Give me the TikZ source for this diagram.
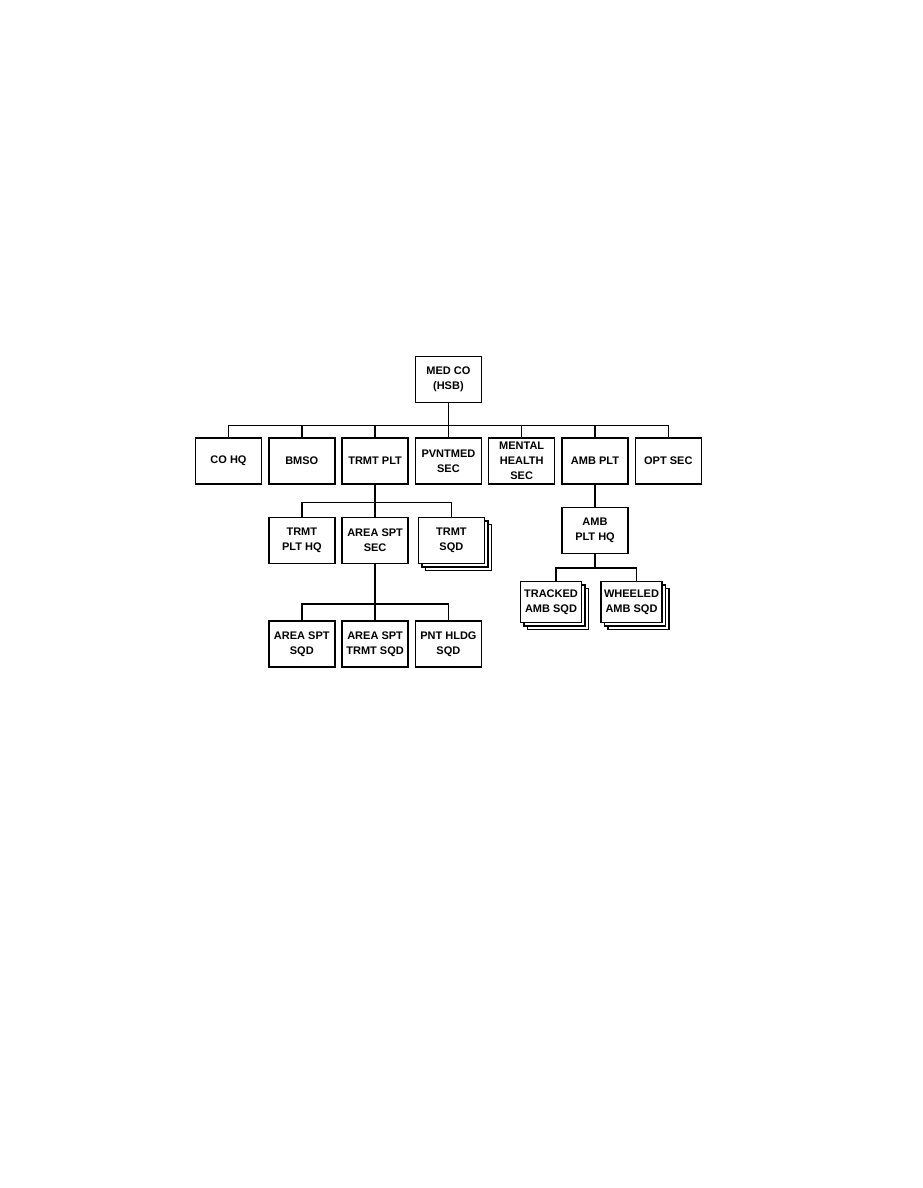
\documentclass[tikz,border=0pt]{standalone}
\usepackage{fontspec}
\setsansfont{Liberation Sans}
\usetikzlibrary{positioning,shadows}

\begin{document}
\begin{tikzpicture}[
  x=1pt,y=-1pt,
  node distance=5.9pt,
  unit/.style={
    draw,
    line width=1.4pt,
    fill=white,
    minimum width=66pt,
    minimum height=46pt,
    inner sep=2pt,
    align=center,
    font=\sffamily\bfseries\fontsize{11}{15}\selectfont
  },
  stack/.style={unit,double copy shadow={shadow xshift=3.5pt,shadow yshift=-3.5pt}},
  link/.style={line width=1.5pt}
]
\useasboundingbox (0,0) rectangle (923,1188);
\node[unit] (cohq) at (228.5,461) {CO HQ};
\node[unit,right=of cohq] (bmso) {BMSO};
\node[unit,right=of bmso] (trmt) {TRMT PLT};
\node[unit,right=of trmt] (pvnt) {PVNTMED\\SEC};
\node[unit,right=of pvnt] (mental) {MENTAL\\HEALTH\\SEC};
\node[unit,right=of mental] (amb) {AMB PLT};
\node[unit,right=of amb] (opt) {OPT SEC};
\node[unit,above=34pt of pvnt] (medco) {MED CO\\(HSB)};
\node[unit,below=32pt of bmso] (trmthq) {TRMT\\PLT HQ};
\node[unit,below=32pt of trmt] (areasec) {AREA SPT\\SEC};
\node[stack,below=32pt of pvnt,xshift=3pt] (trmtsqd) {TRMT\\SQD};
\node[unit,below=56pt of trmthq] (areasqd) {AREA SPT\\SQD};
\node[unit,below=56pt of areasec] (areatrmt) {AREA SPT\\TRMT SQD};
\node[unit,right=of areatrmt] (pnt) {PNT HLDG\\SQD};
\node[unit,below=22pt of amb] (ambhq) {AMB\\PLT HQ};
\node[stack,minimum width=61pt,minimum height=41pt] (trk) at (551,602) {TRACKED\\AMB SQD};
\node[stack,minimum width=61pt,minimum height=41pt] (whl) at (631.5,602) {WHEELED\\AMB SQD};
\foreach \n in {cohq,bmso,trmt,pvnt,mental,amb,opt}
  \draw[link] (medco.south) -- ++(0,22) -| (\n.north);
\foreach \n in {trmthq,areasec,trmtsqd}
  \draw[link] (trmt.south) -- ++(0,18) -| (\n.north);
\foreach \n in {areasqd,areatrmt,pnt}
  \draw[link] (areasec.south) -- ++(0,40) -| (\n.north);
\draw[link] (amb.south) -- (ambhq.north);
\foreach \n in {trk,whl}
  \draw[link] (ambhq.south) -- ++(0,14) -| ([xshift=5pt]\n.north);
\end{tikzpicture}
\end{document}
